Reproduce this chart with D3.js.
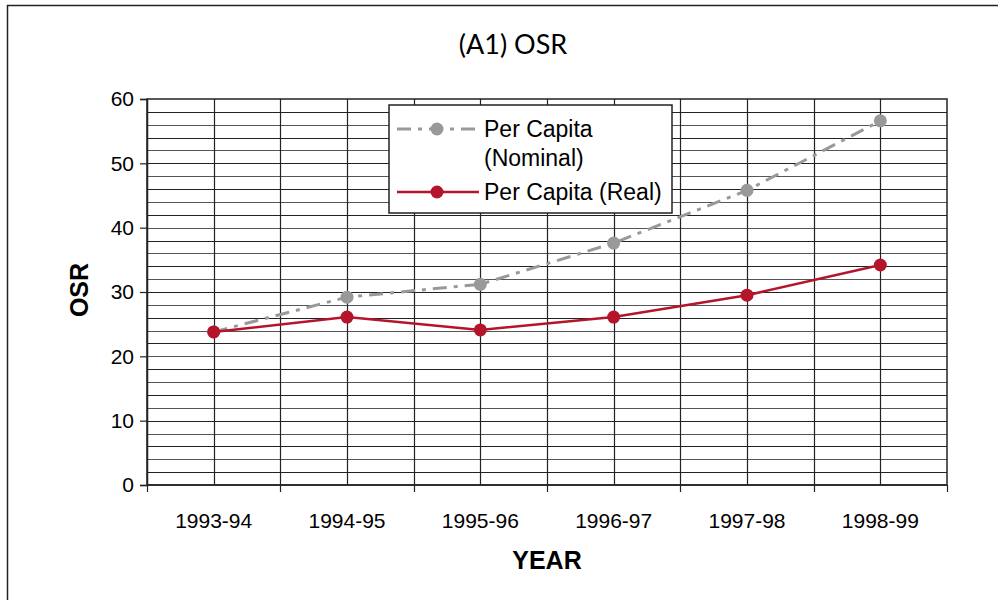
<!DOCTYPE html>
<html>
<head>
<meta charset="utf-8">
<script src="https://cdn.jsdelivr.net/npm/d3@7/dist/d3.min.js"></script>
<style>
  body { margin: 0; background: #fff; }
  svg { display: block; }
  .arial { font-family: "Liberation Sans", Arial, sans-serif; }
</style>
</head>
<body>
<svg id="chart" width="998" height="600"></svg>
<script>
  var years = ["1993-94", "1994-95", "1995-96", "1996-97", "1997-98", "1998-99"];
  var nominal = [23.8, 29.2, 31.2, 37.6, 45.8, 56.6];   // per capita nominal
  var real = [23.8, 26.1, 24.1, 26.1, 29.5, 34.2];      // per capita real
  var yTicks = [0, 10, 20, 30, 40, 50, 60];

  var svg = d3.select("#chart"),
    margin = {top: 99, right: 51, bottom: 115, left: 147},
    width = +svg.attr("width") - margin.left - margin.right,
    height = +svg.attr("height") - margin.top - margin.bottom;

  // outer frame
  svg.append("rect")
    .attr("x", 7.5).attr("y", 5.5)
    .attr("width", 1100).attr("height", 700)
    .attr("fill", "none").attr("stroke", "#222").attr("stroke-width", 1.5);

  svg.append("text")
    .attr("x", 513).attr("y", 54)
    .attr("text-anchor", "middle")
    .style("font-family", "Lato, 'Noto Sans', sans-serif")
    .style("font-size", "27px")
    .text("(A1) OSR");

  var x = d3.scaleBand().domain(years).range([0, width]),
    y = d3.scaleLinear().domain([0, 60]).range([height, 0]);

  var g = svg.append("g")
    .attr("transform", "translate(" + margin.left + "," + margin.top + ")");

  // horizontal grid every 2
  g.append("g")
    .selectAll("line")
    .data(d3.range(2, 60, 2))
    .enter().append("line")
    .attr("x1", 0).attr("x2", width)
    .attr("y1", function(d) { return Math.round(y(d)) + 0.5; })
    .attr("y2", function(d) { return Math.round(y(d)) + 0.5; })
    .attr("stroke", function(d, i) { return i % 2 ? "#555" : "#222"; })
    .attr("stroke-width", 1.2);

  // vertical grid at band edges and centres
  var vLines = [];
  years.forEach(function(d) {
    vLines.push(x(d));
    vLines.push(x(d) + x.bandwidth() / 2);
  });
  g.append("g")
    .selectAll("line")
    .data(vLines.slice(1))
    .enter().append("line")
    .attr("x1", function(d) { return Math.round(d) + 0.5; })
    .attr("x2", function(d) { return Math.round(d) + 0.5; })
    .attr("y1", 0).attr("y2", height)
    .attr("stroke", "#222").attr("stroke-width", 1.2);

  // plot frame
  g.append("rect")
    .attr("x", 0).attr("y", 0)
    .attr("width", width).attr("height", height)
    .attr("fill", "none").attr("stroke", "#222").attr("stroke-width", 1.5);

  // y axis
  var yAxis = g.append("g")
    .call(d3.axisLeft(y).tickValues(yTicks).tickSize(7).tickPadding(6));
  yAxis.select(".domain").attr("stroke", "#222").attr("stroke-width", 1.5);
  yAxis.selectAll(".tick line").attr("stroke", "#222").attr("stroke-width", 1.2);
  yAxis.selectAll("text")
    .attr("class", "arial")
    .style("font-size", "21px").attr("fill", "#000");
  yAxis.attr("font-family", null).attr("font-size", null);

  // x axis: ticks at band boundaries, labels at centres
  var xAxis = g.append("g")
    .attr("transform", "translate(0," + height + ")");
  xAxis.append("line")
    .attr("x1", 0).attr("x2", width)
    .attr("stroke", "#222").attr("stroke-width", 1.5);
  xAxis.selectAll(".xt")
    .data(years.map(function(d) { return x(d); }).concat([width]))
    .enter().append("line")
    .attr("class", "xt")
    .attr("x1", function(d) { return Math.round(d) + 0.5; })
    .attr("x2", function(d) { return Math.round(d) + 0.5; })
    .attr("y1", 0).attr("y2", 7)
    .attr("stroke", "#222").attr("stroke-width", 1.2);
  xAxis.selectAll(".xl")
    .data(years)
    .enter().append("text")
    .attr("class", "xl arial")
    .attr("x", function(d) { return x(d) + x.bandwidth() / 2; })
    .attr("y", 43)
    .attr("text-anchor", "middle")
    .style("font-size", "21px")
    .text(function(d) { return d; });

  // axis titles
  svg.append("text")
    .attr("class", "arial")
    .attr("transform", "translate(88,290) rotate(-90)")
    .attr("text-anchor", "middle")
    .style("font-size", "25px").style("font-weight", "bold")
    .text("OSR");
  svg.append("text")
    .attr("class", "arial")
    .attr("x", 547).attr("y", 569)
    .attr("text-anchor", "middle")
    .style("font-size", "25px").style("font-weight", "bold")
    .text("YEAR");

  var cx = function(d, i) { return x(years[i]) + x.bandwidth() / 2; };
  var line = d3.line()
    .x(function(d, i) { return cx(d, i); })
    .y(function(d) { return y(d); });

  var grey = "#999999", red = "#b5152b";

  // nominal series
  g.append("path")
    .datum(nominal)
    .attr("d", line)
    .attr("fill", "none").attr("stroke", grey)
    .attr("stroke-width", 3)
    .attr("stroke-dasharray", "14,7,4,7");
  g.selectAll(".pn")
    .data(nominal)
    .enter().append("circle")
    .attr("class", "pn")
    .attr("cx", cx).attr("cy", function(d) { return y(d); })
    .attr("r", 6.5).attr("fill", grey);

  // real series
  g.append("path")
    .datum(real)
    .attr("d", line)
    .attr("fill", "none").attr("stroke", red)
    .attr("stroke-width", 2.5);
  g.selectAll(".pr")
    .data(real)
    .enter().append("circle")
    .attr("class", "pr")
    .attr("cx", cx).attr("cy", function(d) { return y(d); })
    .attr("r", 6.5).attr("fill", red);

  // legend
  var lg = svg.append("g").attr("transform", "translate(389,105)");
  lg.append("rect")
    .attr("width", 283).attr("height", 108)
    .attr("fill", "#fff").attr("stroke", "#222").attr("stroke-width", 1.5);
  lg.append("line")
    .attr("x1", 8).attr("x2", 90).attr("y1", 24).attr("y2", 24)
    .attr("stroke", grey).attr("stroke-width", 3)
    .attr("stroke-dasharray", "14,7,4,7");
  lg.append("circle").attr("cx", 48).attr("cy", 24).attr("r", 6.5).attr("fill", grey);
  lg.append("line")
    .attr("x1", 8).attr("x2", 90).attr("y1", 87).attr("y2", 87)
    .attr("stroke", red).attr("stroke-width", 2.5);
  lg.append("circle").attr("cx", 48).attr("cy", 87).attr("r", 6.5).attr("fill", red);
  var lt = lg.append("g")
    .attr("class", "arial")
    .style("font-size", "23px");
  lt.append("text").attr("x", 95).attr("y", 32).text("Per Capita");
  lt.append("text").attr("x", 95).attr("y", 61).text("(Nominal)");
  lt.append("text").attr("x", 95).attr("y", 95).text("Per Capita (Real)");
</script>
</body>
</html>
